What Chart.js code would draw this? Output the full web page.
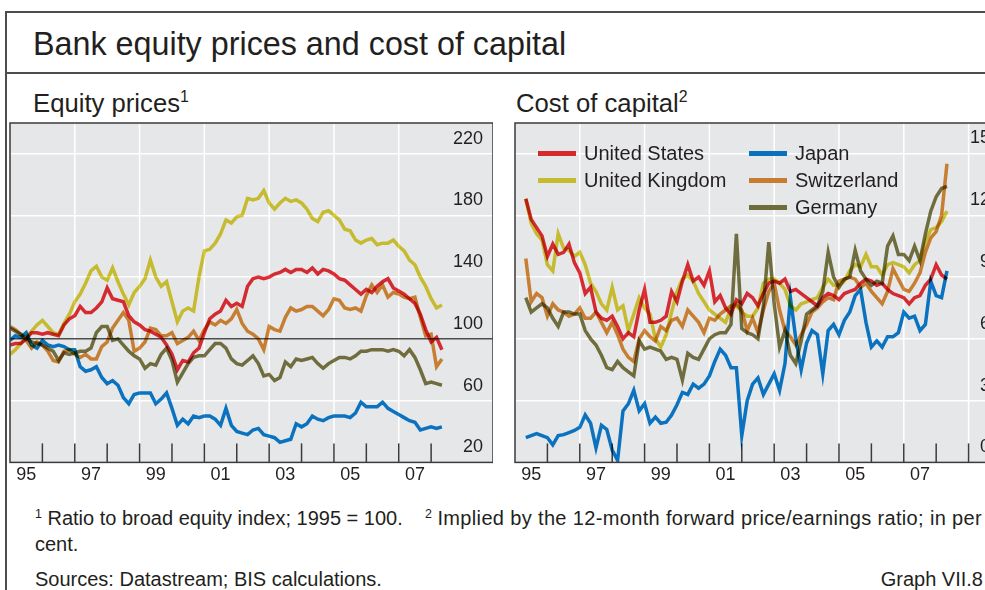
<!DOCTYPE html>
<html>
<head>
<meta charset="utf-8">
<title>Bank equity prices and cost of capital</title>
<script src="https://cdn.jsdelivr.net/npm/chart.js@4.4.1/dist/chart.umd.min.js"></script>
<style>
  html, body { margin: 0; padding: 0; background: #fff; }
  body { width: 985px; height: 590px; overflow: hidden; position: relative;
         font-family: "Liberation Sans", Arial, Helvetica, sans-serif; color: #231f20; }
  .rule { position: absolute; background: #4d4d4d; }
  .txt { position: absolute; white-space: nowrap; line-height: 1; }
  .title { left: 33px; top: 28px; font-size: 32.3px; }
  .sub { top: 91px; font-size: 25.7px; }
  .note { left: 35px; font-size: 20px; }
  .wide { letter-spacing: 0.35px; }
  sup { font-size: 0.62em; vertical-align: 0; position: relative; top: -0.6em; }
  canvas { position: absolute; }
  .key { position: absolute; height: 5px; width: 38px; }
  .keytxt { position: absolute; font-size: 20px; line-height: 1; white-space: nowrap; }
</style>
</head>
<body>
<div class="rule" style="left:5px;top:11px;width:990px;height:1.5px"></div>
<div class="rule" style="left:5px;top:11px;width:1.5px;height:590px"></div>
<div class="rule" style="left:5px;top:72px;width:990px;height:1.5px"></div>

<div class="txt title">Bank equity prices and cost of capital</div>
<div class="txt sub" style="left:33px">Equity prices<sup>1</sup></div>
<div class="txt sub" style="left:516px">Cost of capital<sup>2</sup></div>

<canvas id="equity" width="493" height="373" style="left:0;top:115px"></canvas>
<canvas id="capital" width="495" height="373" style="left:505px;top:115px"></canvas>
<div id="legend"></div>

<div class="txt note" style="top:508px"><sup>1</sup> Ratio to broad equity index; 1995 = 100.&nbsp;&nbsp;&nbsp;&nbsp;<sup>2</sup> <span class="wide">Implied by the 12-month forward price/earnings ratio; in per</span></div>
<div class="txt note" style="top:534px">cent.</div>
<div class="txt note" style="top:569px">Sources: Datastream; BIS calculations.</div>
<div class="txt note" style="top:569px;left:auto;right:2px">Graph VII.8</div>

<script>
// --- Data ---
const dates = [
  '1995-01','1995-03','1995-05','1995-07','1995-09','1995-11',
  '1996-01','1996-03','1996-05','1996-07','1996-09','1996-11',
  '1997-01','1997-03','1997-05','1997-07','1997-09','1997-11',
  '1998-01','1998-03','1998-05','1998-07','1998-09','1998-11',
  '1999-01','1999-03','1999-05','1999-07','1999-09','1999-11',
  '2000-01','2000-03','2000-05','2000-07','2000-09','2000-11',
  '2001-01','2001-03','2001-05','2001-07','2001-09','2001-11',
  '2002-01','2002-03','2002-05','2002-07','2002-09','2002-11',
  '2003-01','2003-03','2003-05','2003-07','2003-09','2003-11',
  '2004-01','2004-03','2004-05','2004-07','2004-09','2004-11',
  '2005-01','2005-03','2005-05','2005-07','2005-09','2005-11',
  '2006-01','2006-03','2006-05','2006-07','2006-09','2006-11',
  '2007-01','2007-03','2007-05','2007-07','2007-09','2007-11',
  '2008-01','2008-03','2008-05'
];

const seriesNames = ['United States', 'United Kingdom', 'Japan', 'Switzerland', 'Germany'];

// Equity prices, ratio to broad index (1995 = 100)
const usEquity = [96,97,97,100,104,104, 103,104,103,102,109,113, 115,121,117,117,120,124,
  133,126,125,124,115,111, 109,106,105,103,101,96, 90,80,86,85,91,94,
  104,113,116,118,125,121, 123,121,134,139,140,139, 140,142,143,145,143,145,
  145,143,146,142,145,144, 142,139,138,135,132,129, 132,130,134,137,139,133,
  131,129,126,123,116,106, 98,101,93];
const ukEquity = [90,93,97,101,105,109, 112,108,104,103,110,116, 124,129,136,144,147,140,
  138,146,137,129,122,130, 134,139,151,140,134,137, 124,111,118,120,118,140,
  157,158,162,168,177,175, 179,180,191,190,191,196, 188,184,188,191,189,190,
  188,184,178,176,182,183, 180,177,171,170,164,162, 164,165,161,162,162,164,
  160,157,151,148,140,134, 126,120,122];
const jpEquity = [99,102,101,104,96,94, 99,96,95,96,95,93, 93,82,79,80,82,75,
  71,73,70,62,58,64, 65,65,65,58,61,65, 55,44,48,45,50,49,
  50,50,48,44,55,44, 40,39,38,41,42,38, 37,36,33,34,35,45,
  43,45,50,48,47,49, 50,50,50,49,52,59, 56,56,56,59,55,53,
  51,49,47,46,41,42, 43,42,43];
const chEquity = [108,106,103,99,94,98, 96,92,86,85,92,93, 90,88,90,87,87,95,
  98,107,112,117,112,92, 94,98,107,106,102,102, 104,97,99,101,105,99,
  106,111,109,112,110,113, 119,110,105,103,100,93, 108,106,105,114,120,118,
  119,121,121,118,115,119, 126,125,120,119,120,118, 128,135,130,135,127,130,
  129,127,126,127,114,102, 103,82,87];
const deEquity = [107,105,103,100,98,97, 96,94,92,86,91,90, 91,92,92,94,104,108,
  108,99,100,96,92,89, 87,81,84,83,90,94, 86,72,78,84,88,89,
  89,93,97,97,94,87, 84,83,86,89,84,76, 77,73,75,85,82,87,
  86,87,88,84,81,84, 86,88,88,87,89,92, 92,93,93,93,92,93,
  92,89,93,88,80,71, 72,71,70];

// Cost of capital, per cent
const usCapital = [null,null,12.8,11.8,11.4,11.0, 10.0,10.6,10.1,10.2,10.6,9.7,
  9.2,8.2,8.5,7.3,7.0,6.9, 7.1,6.6,6.0,6.3,6.1,7.4, 8.4,6.8,6.8,6.9,7.1,8.3,
  7.8,8.8,9.6,8.8,9.0,8.6, 9.3,7.8,8.1,7.5,7.2,7.9, 7.7,8.2,8.0,7.6,8.2,8.7,
  8.8,8.7,8.9,8.3,8.4,8.2, 8.0,7.8,7.6,8.0,8.2,8.1, 7.9,8.2,8.3,8.4,8.7,8.9,
  8.8,8.6,8.7,8.4,8.2,8.1, 8.0,7.7,8.0,8.1,8.6,8.9, 9.6,9.1,8.9];
const ukCapital = [null,null,12.8,11.6,11.1,10.8, 9.6,9.3,11.1,10.4,10.3,10.0,
  10.2,9.6,8.7,8.3,7.7,7.4, 8.5,7.4,7.6,6.4,7.2,8.0, 7.5,7.2,6.0,5.6,6.2,7.3,
  8.3,8.9,9.1,8.8,8.2,7.8, 7.4,7.2,7.0,6.8,7.5,7.6, 7.3,7.1,7.1,7.5,8.7,8.9,
  8.9,8.7,8.4,7.6,7.4,7.7, 7.8,7.9,8.0,8.5,8.9,8.6, 8.6,8.8,9.3,9.6,9.5,10.1,
  9.5,9.5,9.1,9.6,9.7,9.6, 9.5,9.2,9.6,9.8,10.7,11.3, 11.4,11.7,12.2];
const jpCapital = [null,null,1.2,1.3,1.4,1.3, 1.2,0.85,1.3,1.35,1.45,1.55,
  1.7,2.3,1.9,0.7,1.8,1.6, 0.6,0.1,2.5,2.85,3.5,2.5, 2.85,1.9,2.2,1.9,1.95,2.3,
  2.8,3.4,3.3,3.8,3.6,3.8, 4.2,4.9,5.5,5.2,4.6,4.6, 1.3,3.0,3.8,4.1,3.3,3.8,
  4.3,3.5,4.8,8.0,6.0,4.5, 5.8,6.4,6.2,4.3,6.4,6.7, 6.2,6.9,7.3,8.1,8.4,6.8,
  5.6,5.9,5.6,6.1,6.1,6.3, 7.3,7.0,7.1,6.4,6.7,8.8, 8.1,8.0,9.3];
const chCapital = [null,null,9.9,7.8,8.2,8.0, 7.1,7.7,7.4,7.3,7.1,7.2,
  7.5,7.0,7.0,7.3,6.8,6.3, 6.8,6.2,5.5,5.1,4.9,6.0, 6.4,6.1,5.9,6.6,6.4,6.9,
  7.0,6.6,7.4,7.1,6.8,6.3, 7.0,6.9,7.2,7.4,7.6,7.7, 7.4,6.4,7.0,6.3,7.4,8.3,
  8.7,7.4,6.4,6.1,5.7,6.2, 6.7,7.3,7.5,7.8,8.0,7.9, 8.8,8.9,9.0,8.9,8.5,8.7,
  8.3,8.0,7.7,8.3,9.4,8.9, 8.4,8.3,8.7,9.2,10.2,10.9, 11.2,12.0,14.5];
const deCapital = [null,null,8.0,7.3,7.5,7.7, 7.5,7.0,6.6,7.3,7.3,7.2,
  7.2,6.4,6.0,5.7,5.2,4.6, 4.5,4.9,4.6,4.4,4.2,5.9, 5.5,5.6,5.5,5.4,5.0,5.1,
  5.0,4.0,5.3,5.1,5.0,5.5, 6.0,6.2,6.3,6.3,6.7,11.1, 6.5,6.3,6.2,6.0,7.6,10.7,
  7.7,5.6,6.4,5.2,4.8,5.9, 7.2,7.4,7.6,8.3,10.2,9.0, 8.5,8.9,9.0,10.3,9.3,8.9,
  8.6,8.8,8.7,10.5,11.0,10.1, 10.1,9.8,10.5,9.8,11.1,12.2, 12.9,13.3,13.4];

const xLabels = ['95', '97', '99', '01', '03', '05', '07'];
const equityTicks = [20, 60, 100, 140, 180, 220];
const capitalTicks = [0, 3, 6, 9, 12, 15];

// --- Styles ---
// colours as seen on the page; lines are drawn in multiply mode, so the
// stroke colours are lifted a little to make up for the grey plot background
const keyColors  = ['#d42a2f', '#c6bb2e', '#0a72bd', '#c67d31', '#6f6c3c'];
const lineColors = ['#ea2f35', '#dccf34', '#0b7ed1', '#dc8b37', '#7b7843'];
const textColor = '#231f20';
const tickFont = '18px "Liberation Sans", Arial, sans-serif';

Chart.defaults.font.family = '"Liberation Sans", Arial, sans-serif';
Chart.defaults.color = textColor;

const toYear = s => {
  const [y, m] = s.split('-').map(Number);
  return y + (m - 1) / 12;
};
const xs = dates.map(toYear);
const labelYear = l => { const n = Number(l); return (n < 50 ? 2000 : 1900) + n + 0.5; };

const makeDatasets = (list) => list.map((vals, i) => ({
  label: seriesNames[i],
  data: xs.map((x, j) => ({ x: x, y: vals[j] })),
  borderColor: lineColors[i],
  borderWidth: 3.5,
  pointRadius: 0,
  tension: 0,
  spanGaps: false
}));

// plot background, vertical grid, inner tick marks, value labels and frame
const panelStyle = {
  id: 'panelStyle',
  beforeDraw(chart, args, opts) {
    const { ctx, chartArea: a, scales: { x } } = chart;
    ctx.save();
    ctx.fillStyle = '#e6e7e8';
    ctx.fillRect(a.left, a.top, a.right - a.left, a.bottom - a.top);
    ctx.strokeStyle = '#ffffff';
    ctx.lineWidth = 1.5;
    opts.gridYears.forEach(yr => {
      const px = x.getPixelForValue(yr);
      ctx.beginPath(); ctx.moveTo(px, a.top); ctx.lineTo(px, a.bottom); ctx.stroke();
    });
    ctx.restore();
  },
  beforeDatasetsDraw(chart, args, opts) {
    const { ctx, chartArea: a, scales: { x, y } } = chart;
    ctx.save();
    ctx.strokeStyle = '#3b3b3b';
    ctx.lineWidth = 1.5;
    opts.tickYears.forEach(yr => {
      const px = x.getPixelForValue(yr);
      ctx.beginPath(); ctx.moveTo(px, a.bottom); ctx.lineTo(px, a.bottom - 19); ctx.stroke();
    });
    // y tick labels sit inside the plot, just above their grid line
    ctx.fillStyle = textColor;
    ctx.font = tickFont;
    ctx.textAlign = 'right';
    ctx.textBaseline = 'middle';
    y.ticks.forEach(t => {
      ctx.fillText(String(t.value), a.right - 10, y.getPixelForValue(t.value) - 15);
    });
    ctx.restore();
    ctx.save();
    ctx.globalCompositeOperation = 'multiply';
  },
  afterDatasetsDraw(chart) {
    chart.ctx.restore();
  },
  afterDraw(chart) {
    const { ctx, chartArea: a } = chart;
    ctx.save();
    ctx.strokeStyle = '#3b3b3b';
    ctx.lineWidth = 1.5;
    ctx.strokeRect(a.left, a.top, a.right - a.left, a.bottom - a.top);
    ctx.restore();
  }
};

const makeOptions = (yMin, yMax, yTicks, xMax, gridYears, tickYears, darkLine) => ({
  responsive: false,
  animation: false,
  layout: { padding: { left: 10, right: 0, top: 8, bottom: 0 } },
  plugins: {
    legend: { display: false },
    tooltip: { enabled: false },
    panelStyle: { gridYears: gridYears, tickYears: tickYears }
  },
  scales: {
    x: {
      type: 'linear', min: 1995, max: xMax,
      grid: { display: false, tickLength: 0 },
      border: { display: false },
      afterBuildTicks: axis => { axis.ticks = xLabels.map(l => ({ value: labelYear(l) })); },
      ticks: {
        autoSkip: false, maxRotation: 0, padding: 2,
        font: { size: 18 }, color: textColor,
        callback: (v, i) => xLabels[i]
      }
    },
    y: {
      position: 'right', min: yMin, max: yMax,
      afterBuildTicks: axis => { axis.ticks = yTicks.map(v => ({ value: v })); },
      grid: {
        drawTicks: false, lineWidth: 1.5,
        color: c => (c.tick && c.tick.value === darkLine) ? '#4d4d4d' : '#ffffff'
      },
      border: { display: false },
      ticks: { display: false }
    }
  }
});

new Chart(document.getElementById('equity'), {
  type: 'line',
  data: { datasets: makeDatasets([usEquity, ukEquity, jpEquity, chEquity, deEquity]) },
  options: makeOptions(20, 239.8, equityTicks, 2009.91,
    [1997, 1999, 2001, 2003, 2005, 2007],
    [1996, 1997, 1998, 1999, 2000, 2001, 2002, 2003, 2004, 2005, 2006, 2007, 2008],
    100),
  plugins: [panelStyle]
});

new Chart(document.getElementById('capital'), {
  type: 'line',
  data: { datasets: makeDatasets([usCapital, ukCapital, jpCapital, chCapital, deCapital]) },
  options: makeOptions(0, 16.48, capitalTicks, 2009.97,
    [1997, 1999, 2001, 2003, 2005, 2007, 2009],
    [1996, 1997, 1998, 1999, 2000, 2001, 2002, 2003, 2004, 2005, 2006, 2007, 2008, 2009],
    null),
  plugins: [panelStyle]
});

// --- Legend (two columns inside the right panel) ---
const legendSlots = [
  { i: 0, x: 538, y: 153 }, { i: 1, x: 538, y: 180 },
  { i: 2, x: 749, y: 153 }, { i: 3, x: 749, y: 180 }, { i: 4, x: 749, y: 207 }
];
const legend = document.getElementById('legend');
legendSlots.forEach(s => {
  const key = document.createElement('div');
  key.className = 'key';
  key.style.left = s.x + 'px';
  key.style.top = (s.y - 2.5) + 'px';
  key.style.background = keyColors[s.i];
  legend.appendChild(key);
  const t = document.createElement('div');
  t.className = 'keytxt';
  t.style.left = (s.x + 46) + 'px';
  t.style.top = (s.y - 10) + 'px';
  t.textContent = seriesNames[s.i];
  legend.appendChild(t);
});
</script>
</body>
</html>
